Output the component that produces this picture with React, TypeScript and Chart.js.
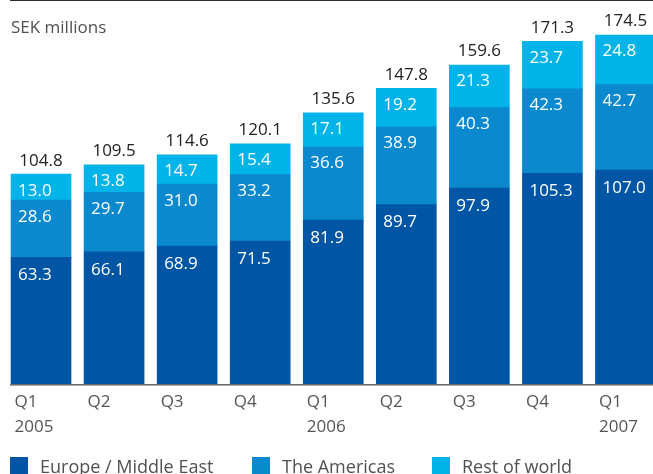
import React, { useEffect, useRef } from 'react';
import { Chart, registerables } from 'chart.js';

Chart.register(...registerables);

const quarters = ['Q1', 'Q2', 'Q3', 'Q4', 'Q1', 'Q2', 'Q3', 'Q4', 'Q1'];
const years = ['2005', '', '', '', '2006', '', '', '', '2007'];
const europeMiddleEast = [63.3, 66.1, 68.9, 71.5, 81.9, 89.7, 97.9, 105.3, 107.0];
const theAmericas = [28.6, 29.7, 31.0, 33.2, 36.6, 38.9, 40.3, 42.3, 42.7];
const restOfWorld = [13.0, 13.8, 14.7, 15.4, 17.1, 19.2, 21.3, 23.7, 24.8];
const totals = [104.8, 109.5, 114.6, 120.1, 135.6, 147.8, 159.6, 171.3, 174.5];
const seriesNames = ['Europe / Middle East', 'The Americas', 'Rest of world'];
const seriesColors = ['#0056a4', '#0a89cf', '#00b4ea'];
const unitLabel = 'SEK millions';

const FONT = '"Open Sans", "Noto Sans", sans-serif';

const labelsPlugin = {
  id: 'segmentLabels',
  afterDatasetsDraw(chart: any) {
    const ctx = chart.ctx;
    ctx.save();
    ctx.font = `17px ${FONT}`;
    chart.data.datasets.forEach((ds: any, di: number) => {
      const meta = chart.getDatasetMeta(di);
      meta.data.forEach((bar: any, i: number) => {
        const { x, y, width } = bar.getProps(['x', 'y', 'width'], true);
        ctx.fillStyle = '#ffffff';
        ctx.textAlign = 'left';
        ctx.textBaseline = 'middle';
        ctx.fillText(Number(ds.data[i]).toFixed(1), x - width / 2 + 7, y + (di === 0 ? 18 : 16.5));
      });
    });
    const top = chart.getDatasetMeta(chart.data.datasets.length - 1);
    top.data.forEach((bar: any, i: number) => {
      const { x, y } = bar.getProps(['x', 'y'], true);
      ctx.fillStyle = '#222222';
      ctx.textAlign = 'center';
      ctx.textBaseline = 'middle';
      ctx.fillText(totals[i].toFixed(1), x, y - 13.5);
    });
    ctx.restore();
  },
};

const decorPlugin = {
  id: 'decor',
  afterDraw(chart: any) {
    const ctx = chart.ctx;
    const w = chart.width;
    ctx.save();
    // top rule
    ctx.fillStyle = '#2e2e2e';
    ctx.fillRect(10, 0, w, 1);
    // base axis line
    const bottom = chart.chartArea.bottom;
    ctx.fillStyle = '#6a6a6a';
    ctx.fillRect(10, bottom, w, 1.6);
    // unit label
    ctx.font = `17px ${FONT}`;
    ctx.fillStyle = '#505050';
    ctx.textAlign = 'left';
    ctx.textBaseline = 'alphabetic';
    ctx.fillText(unitLabel, 11, 33);
    // legend
    const xs = [10, 252, 432];
    ctx.font = `18px ${FONT}`;
    chart.data.datasets.forEach((ds: any, di: number) => {
      ctx.fillStyle = ds.backgroundColor;
      ctx.fillRect(xs[di], 457, 18, 18);
      ctx.fillStyle = '#505050';
      ctx.fillText(ds.label, xs[di] + 30, 473);
    });
    ctx.restore();
  },
};

export default function App() {
  const ref = useRef<HTMLCanvasElement | null>(null);

  useEffect(() => {
    document.body.style.overflow = 'hidden';
    const canvas = ref.current;
    if (!canvas) return;
    const labels = quarters.map((q, i) => (years[i] ? [q, years[i]] : [q]));
    const data = [europeMiddleEast, theAmericas, restOfWorld];
    const chart = new Chart(canvas, {
      type: 'bar',
      data: {
        labels,
        datasets: data.map((d, i) => ({
          label: seriesNames[i],
          data: d,
          backgroundColor: seriesColors[i],
          borderWidth: 0,
          barThickness: 60,
        })),
      },
      options: {
        responsive: false,
        animation: false,
        devicePixelRatio: 1,
        layout: { padding: { left: 4.5, top: 24, right: 10, bottom: 0 } },
        plugins: {
          legend: { display: false },
          tooltip: { enabled: false },
          title: { display: false },
        },
        scales: {
          x: {
            stacked: true,
            offset: true,
            grid: { display: false, drawTicks: false },
            border: { display: false },
            ticks: {
              align: 'start',
              labelOffset: -26.5,
              padding: 5.5,
              autoSkip: false,
              maxRotation: 0,
              minRotation: 0,
              color: '#555555',
              font: { family: FONT, size: 17, lineHeight: 25 / 17 },
            },
            afterFit: (scale: any) => {
              scale.height = 90;
            },
          },
          y: {
            stacked: true,
            display: false,
            min: 0,
            max: 180,
          },
        },
      } as any,
      plugins: [labelsPlugin, decorPlugin],
    });
    return () => chart.destroy();
  }, []);

  return (
    <div style={{ position: 'fixed', left: 0, top: 0, width: 672, height: 474 }}>
      <canvas ref={ref} width={672} height={474} style={{ display: 'block' }} />
    </div>
  );
}
